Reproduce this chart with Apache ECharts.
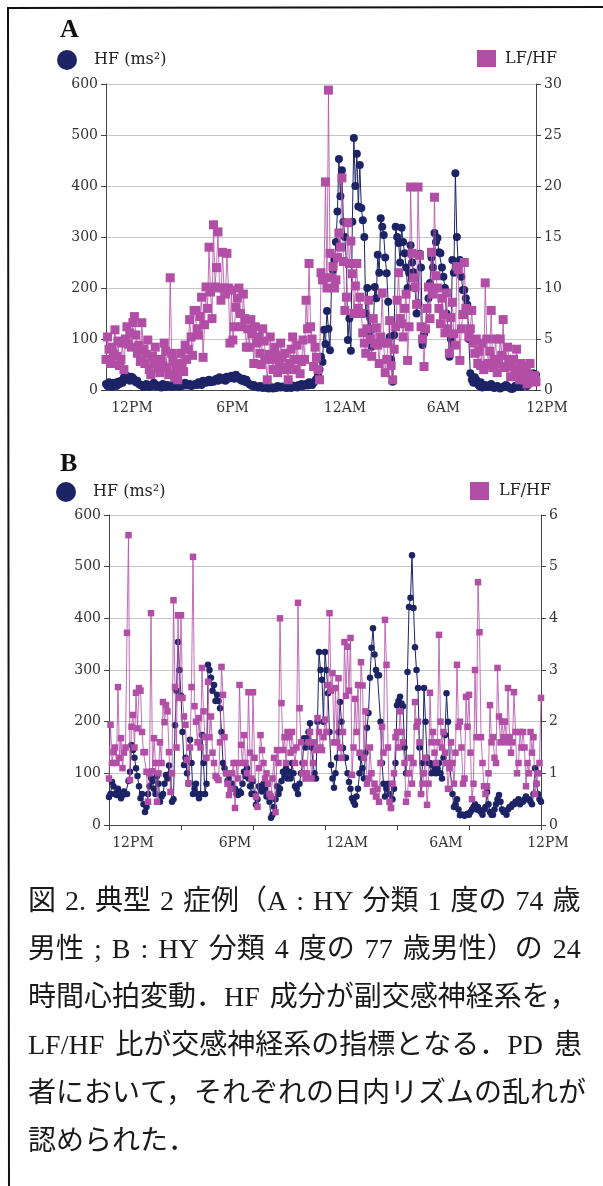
<!DOCTYPE html>
<html>
<head>
<meta charset="utf-8">
<script src="https://cdn.jsdelivr.net/npm/echarts@6/dist/echarts.min.js"></script>
<style>
  html, body { margin: 0; padding: 0; background: #fff; }
  #chart { width: 603px; height: 1186px; }
</style>
</head>
<body>
<div id="chart"></div>
<script>
// 24-hour heart rate variability, one sample every 5 minutes starting at noon.
const SAMPLES_PER_HOUR = 12;
const TIME_LABELS = { 0: '12PM', 6: '6PM', 12: '12AM', 18: '6AM', 24: '12PM' };
const HF_TICKS = [0, 100, 200, 300, 400, 500, 600];

// Case A: HF (ms²), one row per hour
const hfA = [
  12, 8, 15, 10, 6, 14, 10, 8, 16, 12, 18, 14,
  25, 20, 28, 22, 18, 26, 24, 20, 15, 18, 12, 10,
  10, 6, 8, 12, 9, 6, 10, 8, 14, 11, 7, 9,
  8, 5, 12, 7, 6, 10, 8, 9, 6, 7, 10, 8,
  10, 7, 12, 8, 11, 14, 9, 10, 12, 8, 9, 11,
  12, 10, 15, 13, 10, 18, 16, 14, 18, 20, 15, 17,
  16, 20, 22, 18, 25, 21, 20, 24, 18, 26, 22, 24,
  28, 24, 22, 30, 26, 25, 20, 18, 22, 16, 20, 14,
  12, 10, 8, 10, 7, 6, 5, 8, 6, 4, 8, 5,
  4, 3, 6, 5, 3, 5, 4, 8, 6, 5, 7, 6,
  5, 4, 7, 6, 4, 9, 8, 6, 5, 10, 8, 12,
  8, 10, 12, 9, 15, 12, 10, 14, 18, 22, 30, 40,
  65, 55, 118, 90, 155, 120, 78, 200, 235, 255, 290, 350,
  453, 380, 431, 330, 300, 250, 98, 140, 77, 330, 494, 400,
  463, 360, 441, 357, 333, 300, 150, 200, 112, 140, 85, 120,
  202, 180, 265, 230, 337, 320, 304, 260, 229, 173, 104, 60,
  16, 108, 320, 300, 288, 250, 318, 290, 268, 240, 200, 230,
  284, 250, 231, 200, 150, 170, 267, 240, 88, 110, 120, 160,
  180, 210, 260, 240, 308, 290, 298, 270, 268, 240, 222, 200,
  150, 120, 65, 100, 255, 230, 425, 300, 241, 255, 222, 196,
  196, 180, 167, 100, 33, 20, 14, 25, 20, 12, 8, 15,
  5, 8, 10, 6, 6, 9, 12, 8, 4, 6, 8, 5,
  3, 5, 6, 8, 10, 7, 5, 3, 2, 4, 8, 6,
  10, 8, 6, 9, 12, 10, 8, 12, 15, 20, 33, 25,
  30
];
// Case A: LF/HF ratio
const lfhfA = [
  3.0, 5.2, 4.0, 2.6, 4.2, 3.5, 5.9, 3.3, 4.8, 2.4, 3.0, 4.6,
  2.0, 5.0, 6.2, 4.5, 5.6, 4.2, 6.6, 7.2, 5.4, 3.6, 4.4, 2.8,
  6.6, 4.0, 2.6, 3.5, 4.9, 2.0, 1.5, 3.3, 2.6, 4.2, 3.0, 2.2,
  1.7, 3.0, 2.4, 4.6, 3.8, 2.2, 1.5, 11.0, 3.6, 2.8, 1.2, 2.0,
  1.0, 2.5, 3.6, 2.6, 1.8, 4.4, 3.0, 4.0, 6.9, 5.2, 3.4, 7.8,
  7.8, 6.0, 5.4, 7.2, 9.1, 3.2, 6.4, 10.1, 8.0, 14.0, 9.6, 7.0,
  16.2, 10.1, 12.0, 15.5, 10.0, 8.8, 13.5, 10.0, 9.4, 13.4, 10.0, 4.6,
  9.8, 4.9, 6.2, 8.1, 9.0, 10.0, 7.5, 6.2, 9.4, 7.0, 4.2, 6.0,
  4.2, 6.9, 5.5, 2.6, 6.2, 4.6, 5.2, 3.6, 2.5, 6.0, 4.8, 3.0,
  1.0, 3.5, 5.2, 3.0, 2.0, 4.2, 3.4, 1.7, 2.6, 4.6, 3.2, 2.2,
  3.6, 2.0, 1.0, 2.6, 4.0, 5.2, 3.0, 2.0, 4.4, 3.0, 1.6, 2.8,
  4.9, 3.0, 8.8, 6.0, 12.4, 6.2, 5.0, 2.3, 4.2, 3.2, 2.0, 1.0,
  11.5, 10.8, 11.0, 20.4, 10.0, 29.4, 13.4, 11.0, 12.1, 10.0, 10.8, 13.0,
  15.4, 14.0, 20.8, 12.6, 7.8, 9.1, 16.4, 12.4, 14.6, 11.4, 7.5, 10.2,
  12.4, 8.0, 9.1, 7.5, 5.6, 4.6, 3.6, 6.0, 8.8, 5.0, 3.3, 7.0,
  4.6, 6.1, 4.4, 2.6, 5.2, 9.5, 4.6, 1.7, 3.0, 4.6, 6.8, 2.4,
  1.0, 4.0, 6.2, 8.8, 11.5, 7.0, 6.5, 5.2, 8.0, 9.4, 2.9, 6.2,
  19.9, 13.4, 11.0, 10.1, 8.4, 19.9, 13.2, 6.2, 5.0, 2.3, 6.0, 8.0,
  10.1, 7.0, 13.5, 9.4, 18.9, 11.2, 10.0, 8.0, 6.5, 9.0, 7.4, 5.6,
  9.5, 6.0, 3.6, 7.1, 8.6, 5.5, 4.4, 12.1, 11.8, 2.9, 6.0, 7.4,
  12.5, 8.0, 7.8, 5.2, 6.0, 7.8, 4.6, 3.6, 5.0, 2.6, 3.8, 2.4,
  4.6, 2.0, 10.5, 5.0, 2.6, 3.8, 7.8, 2.2, 3.0, 5.0, 1.7, 2.6,
  5.0, 3.4, 6.9, 2.2, 2.3, 4.2, 3.0, 1.3, 2.4, 3.0, 1.6, 4.0,
  2.0, 1.0, 2.6, 1.5, 1.0, 2.3, 0.6, 1.5, 2.6, 1.0, 0.8, 1.4,
  0.8
];
const lfhfTicksA = [0, 5, 10, 15, 20, 25, 30];

// Case B: HF (ms²)
const hfB = [
  54, 60, 83, 75, 60, 58, 70, 62, 52, 58, 65, 60,
  60, 85, 103, 155, 145, 130, 110, 95, 75, 52, 60, 40,
  25, 35, 60, 75, 91, 85, 70, 60, 95, 80, 45, 55,
  60, 80, 97, 90, 115, 100, 45, 50, 193, 260, 354, 300,
  250, 180, 116, 130, 100, 80, 165, 120, 60, 70, 80, 60,
  52, 60, 174, 120, 60, 80, 310, 300, 285, 260, 271, 240,
  252, 240, 226, 180, 120, 110, 100, 85, 90, 80, 80, 70,
  70, 60, 58, 65, 62, 80, 103, 95, 110, 90, 75, 60,
  85, 60, 39, 50, 75, 70, 65, 80, 70, 55, 60, 45,
  14, 20, 35, 50, 75, 60, 70, 85, 103, 95, 110, 90,
  103, 90, 120, 100, 75, 70, 60, 80, 100, 120, 168, 150,
  168, 180, 197, 150, 120, 100, 90, 200, 335, 300, 281, 200,
  335, 300, 255, 180, 116, 90, 72, 100, 130, 180, 238, 200,
  149, 130, 130, 100, 83, 70, 52, 45, 39, 55, 70, 100,
  130, 110, 90, 140, 188, 217, 285, 343, 381, 330, 300, 290,
  290, 200, 120, 80, 55, 70, 80, 60, 33, 50, 70, 120,
  232, 240, 248, 235, 230, 150, 100, 296, 422, 440, 522, 420,
  344, 300, 265, 150, 60, 120, 265, 200, 130, 120, 120, 100,
  115, 105, 100, 110, 120, 100, 90, 130, 174, 255, 200, 120,
  120, 60, 35, 40, 50, 30, 19, 20, 20, 18, 20, 22,
  20, 25, 30, 35, 40, 30, 35, 28, 25, 20, 30, 35,
  64, 40, 25, 20, 20, 30, 40, 50, 58, 45, 30, 25,
  25, 20, 30, 35, 35, 40, 40, 45, 45, 50, 40, 45,
  45, 50, 55, 50, 50, 45, 40, 60, 110, 80, 60, 50,
  45
];
// Case B: LF/HF ratio
const lfhfB = [
  0.9, 1.94, 1.2, 1.41, 1.5, 1.2, 2.67, 1.3, 1.68, 1.1, 1.4, 1.5,
  3.72, 5.61, 0.87, 1.9, 2.13, 1.5, 2.56, 1.87, 2.65, 2.6, 1.8, 1.41,
  1.41, 1.03, 0.45, 1.0, 4.10, 1.04, 1.68, 1.2, 0.45, 1.0, 1.6, 1.2,
  2.38, 1.99, 2.32, 2.2, 1.41, 0.64, 1.0, 4.35, 2.67, 1.5, 4.06, 2.46,
  4.06, 2.46, 2.1, 1.94, 1.26, 0.81, 1.5, 2.67, 5.19, 2.3, 2.0, 1.6,
  2.07, 1.5, 3.04, 2.2, 1.7, 1.3, 2.77, 1.7, 2.1, 1.4, 1.2, 0.95,
  0.91, 0.87, 1.6, 3.06, 2.52, 1.7, 1.0, 0.8, 0.58, 0.7, 1.0, 1.2,
  0.33, 1.2, 0.9, 2.71, 1.55, 1.2, 1.74, 1.2, 1.0, 2.57, 1.4, 0.9,
  2.57, 1.3, 0.55, 0.35, 1.1, 1.74, 1.45, 1.2, 0.9, 1.0, 0.8, 0.6,
  0.55, 0.9, 1.30, 0.25, 1.45, 1.2, 4.0, 2.36, 1.45, 1.7, 1.2, 1.8,
  1.7, 1.4, 1.8, 1.45, 1.2, 1.5, 4.3, 2.26, 1.6, 1.0, 1.2, 0.9,
  1.0, 1.6, 1.8, 0.9, 1.2, 1.6, 1.45, 2.07, 1.8, 1.5, 1.45, 1.7,
  2.04, 1.8, 2.71, 4.10, 2.6, 2.94, 1.6, 2.65, 1.6, 2.84, 1.5, 1.3,
  1.8, 3.54, 2.5, 3.45, 2.6, 3.62, 0.97, 1.5, 2.44, 1.8, 2.71, 1.4,
  3.15, 2.7, 1.3, 2.2, 0.8, 0.9, 1.5, 1.0, 0.65, 0.8, 0.55, 0.7,
  0.45, 1.2, 1.9, 1.4, 3.97, 3.10, 1.5, 0.45, 0.33, 0.8, 1.0, 1.7,
  1.8, 1.5, 2.2, 1.8, 1.6, 1.2, 0.45, 0.6, 1.0, 1.3, 0.8, 1.2,
  2.38, 1.9, 2.0, 1.6, 0.6, 0.8, 1.0, 1.3, 0.39, 0.8, 2.56, 1.6,
  1.8, 1.4, 1.2, 1.6, 3.68, 2.0, 1.5, 1.8, 1.4, 1.2, 0.7, 1.1,
  1.6, 1.2, 0.8, 1.4, 3.10, 1.9, 2.0, 1.5, 0.8, 0.9, 2.48, 1.9,
  2.52, 1.4, 0.5, 0.8, 3.0, 1.7, 4.70, 3.73, 1.7, 1.2, 0.75, 0.6,
  0.75, 1.0, 2.32, 1.6, 1.7, 1.3, 1.2, 3.04, 2.1, 1.6, 2.0, 1.7,
  2.0, 1.6, 2.65, 1.7, 1.4, 1.6, 2.57, 1.8, 1.0, 1.2, 1.8, 1.5,
  1.8, 1.5, 0.75, 1.2, 1.0, 1.8, 1.4, 1.7, 0.6, 0.8, 1.0, 1.2,
  2.46
];
const lfhfTicksB = [0, 1, 2, 3, 4, 5, 6];

const captionLines = [
  '図 2. 典型 2 症例（A : HY 分類 1 度の 74 歳',
  '男性 ; B : HY 分類 4 度の 77 歳男性）の 24',
  '時間心拍変動．HF 成分が副交感神経系を，',
  'LF/HF 比が交感神経系の指標となる．PD 患',
  '者において，それぞれの日内リズムの乱れが',
  '認められた．'
];

const NAVY = '#1c2466';
const MAGENTA = '#b24ea6';
const SERIF = '"DejaVu Serif", "Liberation Serif", serif';
const CAPTION_FONT = '"Liberation Serif", "Noto Sans CJK JP", serif';
const AXIS_COLOR = '#444';
const LABEL_COLOR = '#333';

const toPoints = arr => arr.map((v, i) => [i / SAMPLES_PER_HOUR, v]);

function timeAxis(gridIndex, shifts, tickValues) {
  const rich = {};
  Object.keys(TIME_LABELS).forEach(k => {
    rich['p' + k] = { fontFamily: SERIF, fontSize: 14, color: LABEL_COLOR, padding: [0, 0, 0, shifts[k] * 2] };
  });
  return {
    type: 'value', gridIndex, min: 0, max: 24,
    axisLine: { show: true, onZero: false, lineStyle: { color: AXIS_COLOR, width: 1 } },
    axisTick: tickValues ? { show: true, length: 5, customValues: tickValues, lineStyle: { color: AXIS_COLOR } } : { show: false },
    splitLine: { show: false },
    axisLabel: {
      customValues: Object.keys(TIME_LABELS).map(Number),
      margin: 11,
      formatter: v => '{p' + v + '|' + TIME_LABELS[v] + '}',
      rich
    }
  };
}

function valueAxis(gridIndex, position, ticks, withGrid) {
  return {
    type: 'value', gridIndex, position,
    min: ticks[0], max: ticks[ticks.length - 1], interval: ticks[1] - ticks[0],
    axisLine: { show: true, lineStyle: { color: AXIS_COLOR, width: 1 } },
    axisTick: { show: true, length: 5, lineStyle: { color: AXIS_COLOR } },
    axisLabel: { fontFamily: SERIF, fontSize: 14, color: LABEL_COLOR, margin: 8 },
    splitLine: { show: withGrid, lineStyle: { color: '#c6c6c6', width: 1 } }
  };
}

function seriesPair(xAxisIndex, yLeft, yRight, hf, lfhf, size) {
  return [
    {
      name: 'HF (ms²)', type: 'line', xAxisIndex, yAxisIndex: yLeft,
      data: toPoints(hf), symbol: 'circle', symbolSize: size.circle,
      itemStyle: { color: NAVY }, lineStyle: { color: NAVY, width: 1 }, z: 2
    },
    {
      name: 'LF/HF', type: 'line', xAxisIndex, yAxisIndex: yRight,
      data: toPoints(lfhf), symbol: 'rect', symbolSize: size.square,
      itemStyle: { color: MAGENTA }, lineStyle: { color: MAGENTA, width: 1, opacity: 0.8 }, z: 3
    }
  ];
}

function legend(name, icon, left, top, w, h, gap) {
  return {
    data: [{ name, icon }], left, top, itemWidth: w, itemHeight: h, selectedMode: false,
    formatter: n => '{t|' + n + '}',
    textStyle: { rich: { t: { fontFamily: SERIF, fontSize: 16, color: '#222', padding: [0, 0, 0, gap] } } }
  };
}

// Caption lines are set flush at both edges: the word spaces of each line get a width of their own.
const CAPTION_SPACE = [9, 10, 10, 11, 7, 7];
const captionText = captionLines
  .map((line, i) => line.replace(/ /g, '{s' + i + '| }'))
  .join('\n');
const captionRich = {};
CAPTION_SPACE.forEach((w, i) => {
  captionRich['s' + i] = { width: w, fontFamily: CAPTION_FONT, fontSize: 28, lineHeight: 48 };
});

const chart = echarts.init(document.getElementById('chart'), null, { renderer: 'canvas' });
chart.setOption({
  animation: false,
  backgroundColor: '#fff',
  title: [
    { text: 'A', left: 55, top: 12, textStyle: { fontFamily: '"Liberation Serif", serif', fontWeight: 'bold', fontSize: 26, color: '#111' } },
    { text: 'B', left: 55, top: 446, textStyle: { fontFamily: '"Liberation Serif", serif', fontWeight: 'bold', fontSize: 26, color: '#111' } },
    {
      text: captionText, left: 23, top: 874,
      textStyle: {
        fontFamily: CAPTION_FONT, fontWeight: 'normal', fontSize: 28, lineHeight: 48, color: '#1a1a1a',
        rich: captionRich
      }
    }
  ],
  legend: [
    legend('HF (ms²)', 'circle', 52, 45, 20, 20, 12),
    legend('LF/HF', 'rect', 472, 45, 19, 17, 4),
    legend('HF (ms²)', 'circle', 51, 477, 20, 20, 12),
    legend('LF/HF', 'rect', 465, 477, 19, 18, 5)
  ],
  grid: [
    { left: 106, top: 84, width: 430, height: 306 },
    { left: 109, top: 515, width: 432, height: 310 }
  ],
  xAxis: [
    timeAxis(0, { 0: 26, 6: 19, 12: 24, 18: 15, 24: 11 }, null),
    timeAxis(1, { 0: 24, 6: 18, 12: 22, 18: 13, 24: 7 }, [0, 4, 8, 12, 16, 20, 24])
  ],
  yAxis: [
    valueAxis(0, 'left', HF_TICKS, true),
    valueAxis(0, 'right', lfhfTicksA, false),
    valueAxis(1, 'left', HF_TICKS, true),
    valueAxis(1, 'right', lfhfTicksB, false)
  ],
  series: [
    ...seriesPair(0, 0, 1, hfA, lfhfA, { circle: 8, square: 9 }),
    ...seriesPair(1, 2, 3, hfB, lfhfB, { circle: 6.5, square: 6.5 })
  ],
  graphic: [
    {
      type: 'polyline', silent: true,
      shape: { points: [[9, 1190], [8, 8], [610, 7]] },
      style: { stroke: '#111', lineWidth: 2, fill: null }
    }
  ]
});
</script>
</body>
</html>
